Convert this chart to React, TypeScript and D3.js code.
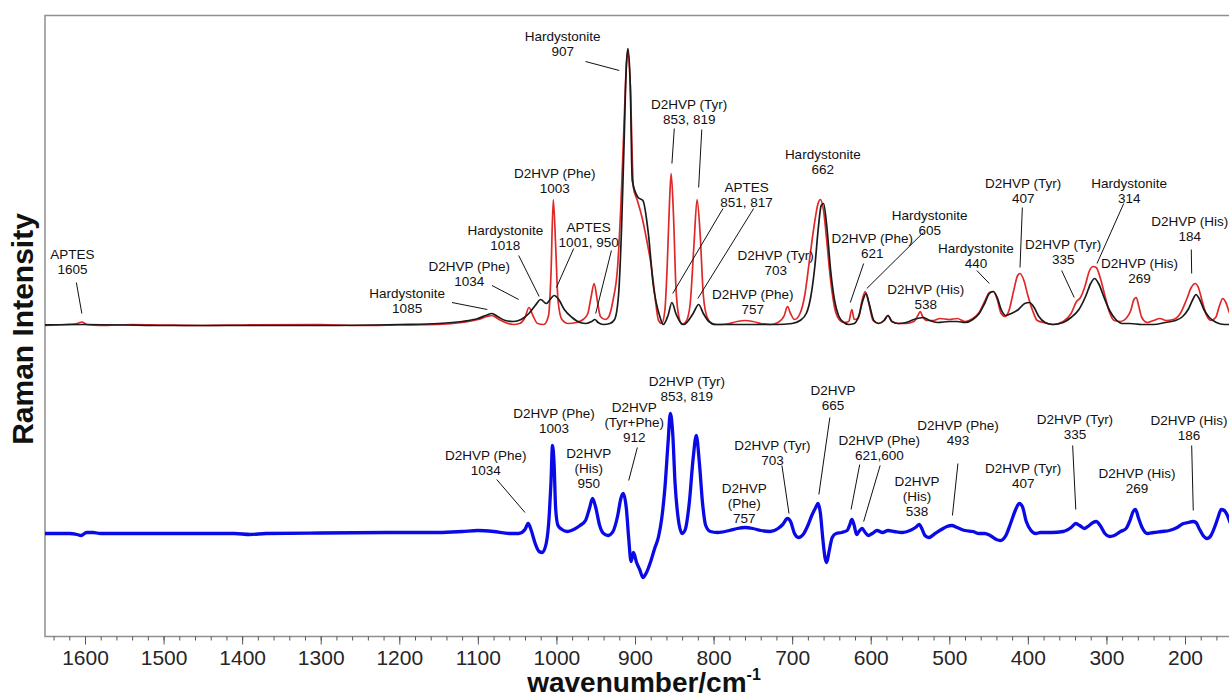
import React, { useRef, useEffect } from 'react';
import * as d3 from 'd3';

type Pt = [number, number];

// [wavenumber cm-1, intensity above the trace's own baseline (a.u.)]
const redSpectrum: Pt[] = [
    [1660, 0], [1625, 0.1], [1610, 0.2], [1604, 0.35], [1598, 0.1], [1580, 0],
    [1540, 0.1], [1500, 0.05], [1450, 0], [1400, 0.05], [1300, 0.1], [1250, 0],
    [1200, 0.05], [1150, 0.1], [1120, 0.3], [1100, 0.6], [1088, 0.9], [1082, 1.0],
    [1075, 0.7], [1065, 0.3], [1055, 0.1], [1047, 0.2], [1040, 0.8], [1035, 1.8],
    [1030, 1.0], [1024, 0.2], [1016, 0.1], [1010, 1.0], [1007, 5.0], [1004, 12.6],
    [1001, 8.0], [998, 2.5], [993, 0.6], [985, 0.2], [975, 0.3], [966, 0.6],
    [960, 1.2], [956, 2.8], [952, 4.2], [948, 2.5], [944, 0.9], [938, 0.6],
    [934, 0.8], [928, 2.5], [922, 6.0], [918, 12.0], [914, 20.0], [911, 26.0],
    [909, 27.5], [906, 24.0], [902, 13.8], [897, 12.5], [891, 10.8], [885, 8.5],
    [879, 5.8], [875, 3.2], [870, 0.5], [866, 0.2], [862, 1.5], [859, 6.0],
    [856, 12.5], [854, 15.2], [851, 11.0], [848, 4.0], [844, 0.8], [840, 0.1],
    [835, 0.4], [830, 2.0], [825, 8.0], [821, 12.6], [817, 9.0], [813, 3.0],
    [808, 0.8], [800, 0.1], [790, 0.1], [780, 0.2], [770, 0.4], [760, 0.5],
    [750, 0.4], [740, 0.2], [728, 0.1], [718, 0.3], [710, 1.0], [706, 1.9],
    [702, 1.2], [697, 0.6], [690, 1.2], [684, 3.0], [678, 6.5], [672, 10.0],
    [667, 12.2], [664, 12.6], [660, 11.5], [656, 8.5], [651, 4.5], [646, 1.8],
    [641, 0.7], [634, 0.3], [628, 0.4], [624, 1.6], [621, 0.6], [616, 0.7],
    [611, 2.5], [607, 3.4], [603, 2.4], [597, 0.5], [590, 0.2], [583, 0.5],
    [578, 1.0], [573, 0.4], [565, 0.2], [555, 0.2], [545, 0.4], [540, 1.0],
    [537, 1.4], [534, 0.9], [528, 0.5], [520, 0.5], [512, 0.7], [500, 0.6],
    [490, 0.7], [480, 0.4], [470, 0.7], [462, 1.3], [455, 2.4], [449, 3.3],
    [444, 3.4], [439, 2.6], [434, 1.2], [429, 0.9], [424, 1.5], [418, 3.5],
    [413, 5.0], [410, 5.2], [405, 4.5], [400, 3.0], [394, 1.5], [388, 0.5],
    [380, 0.3], [368, 0.1], [355, 0.4], [345, 1.2], [338, 2.4], [333, 2.8],
    [327, 4.0], [322, 5.4], [317, 5.9], [313, 5.8], [308, 4.8], [302, 3.0],
    [296, 1.3], [290, 0.5], [282, 0.4], [275, 0.7], [269, 1.5], [265, 2.6],
    [262, 2.8], [259, 2.0], [255, 0.8], [248, 0.3], [240, 0.5], [232, 0.7],
    [224, 0.5], [215, 0.6], [206, 1.2], [198, 2.6], [192, 3.8], [187, 4.2],
    [183, 3.8], [178, 2.4], [173, 1.1], [167, 0.5], [161, 0.8], [156, 2.0],
    [152, 2.7], [148, 2.3], [143, 1.2], [138, 0.8],
];

const blackSpectrum: Pt[] = [
    [1660, 0.05], [1600, 0.1], [1500, 0], [1400, 0], [1300, 0], [1200, 0.1],
    [1150, 0.2], [1120, 0.4], [1100, 0.7], [1090, 1.0], [1082, 1.2], [1075, 0.9],
    [1065, 0.5], [1055, 0.4], [1045, 0.6], [1035, 1.2], [1027, 2.0], [1020, 2.6],
    [1013, 2.2], [1008, 2.6], [1003, 3.0], [997, 2.6], [990, 1.6], [980, 0.8],
    [970, 0.3], [962, 0.2], [955, 0.4], [951, 0.6], [947, 0.3], [940, 0.1],
    [932, 0.2], [926, 0.6], [921, 3.0], [917, 10.0], [914, 18.0], [911, 26.0],
    [909, 27.7], [906, 24.0], [903.5, 14.5], [896, 12.8], [890, 12.5], [883, 9.2],
    [877, 4.2], [868, 0.8], [864, 0.1], [858, 1.0], [853, 2.3], [848, 1.2],
    [842, 0.3], [838, 0.1], [833, 0.4], [826, 1.2], [819, 2.1], [813, 1.2],
    [806, 0.4], [797, 0.1], [760, 0.1], [720, 0.1], [700, 0.2], [690, 0.5],
    [682, 1.2], [676, 3.0], [671, 6.0], [667, 9.5], [663, 12.0], [660, 12.2],
    [656, 10.0], [651, 5.5], [646, 2.5], [641, 1.0], [634, 0.3], [628, 0.1],
    [621, 0.2], [615, 1.0], [610, 2.5], [606, 3.2], [602, 2.2], [596, 0.5],
    [590, 0.2], [583, 0.5], [578, 1.0], [573, 0.4], [565, 0.2], [555, 0.3],
    [545, 0.6], [533, 0.8], [525, 0.5], [515, 0.3], [500, 0.4], [490, 0.4],
    [480, 0.3], [470, 0.6], [462, 1.2], [455, 2.2], [449, 3.2], [444, 3.4],
    [439, 2.8], [434, 1.6], [428, 1.0], [421, 1.2], [412, 1.6], [404, 2.2],
    [398, 2.3], [392, 1.8], [386, 0.9], [378, 0.3], [368, 0.1], [355, 0.3],
    [345, 0.8], [335, 1.6], [326, 3.0], [320, 4.2], [315, 4.7], [310, 4.2],
    [303, 2.8], [296, 1.5], [288, 0.6], [280, 0.2], [270, 0.2], [255, 0.1],
    [240, 0.1], [225, 0.3], [212, 0.5], [203, 0.9], [196, 1.6], [190, 2.6],
    [186, 3.1], [182, 2.7], [176, 1.6], [169, 0.8], [160, 0.3], [150, 0.1],
    [138, 0.1],
];

const blueSpectrum: Pt[] = [
    [1660, 0], [1620, 0], [1610, -0.1], [1605, -0.2], [1598, 0.1], [1590, 0.1],
    [1580, 0], [1500, 0], [1450, 0], [1410, 0], [1390, -0.1], [1370, 0],
    [1300, 0.05], [1200, 0.1], [1150, 0.1], [1120, 0.2], [1100, 0.3], [1080, 0.2],
    [1060, 0], [1048, 0], [1040, 0.4], [1036, 1.0], [1032, 0.3], [1027, -1.0],
    [1022, -1.8], [1018, -1.9], [1013, -1.0], [1009, 2.0], [1007, 5.0], [1005, 8.8],
    [1003, 7.0], [1001, 2.5], [998, 0.8], [993, 0.4], [986, 0.2], [978, 0.4],
    [970, 0.8], [963, 1.3], [958, 2.5], [954, 3.5], [950, 2.6], [945, 0.8],
    [940, 0], [934, -0.2], [928, 0.2], [922, 1.8], [918, 3.5], [915, 4.0],
    [911, 2.5], [908, -0.5], [905, -2.8], [902, -1.9], [898, -2.9], [894, -3.6],
    [890, -4.4], [886, -4.0], [880, -2.8], [875, -1.5], [870, -0.3], [866, 1.5],
    [862, 4.5], [858, 9.0], [855, 12.0], [852, 10.0], [849, 5.0], [845, 1.5],
    [840, 0], [836, 0.4], [831, 3.0], [826, 7.5], [822, 9.8], [818, 7.0],
    [814, 3.0], [810, 0.8], [804, 0.2], [795, 0.1], [780, 0.3], [770, 0.5],
    [760, 0.6], [750, 0.5], [740, 0.3], [728, 0.2], [718, 0.5], [712, 0.9],
    [706, 1.5], [702, 1.2], [697, 0], [692, -0.4], [686, -0.1], [680, 0.8],
    [675, 1.8], [670, 2.6], [667, 3.0], [664, 2.0], [661, -0.5], [658, -2.5],
    [656, -2.9], [653, -1.8], [649, -0.4], [644, 0], [637, 0.1], [630, 0.3],
    [627, 0.8], [624, 1.4], [621, 0.8], [618, -0.1], [615, 0.2], [611, 0.5],
    [607, 0.1], [603, -0.2], [598, 0], [592, 0.3], [585, 0.1], [578, 0.3],
    [570, 0.2], [560, 0.1], [550, 0.3], [543, 0.6], [538, 0.9], [535, 0.5],
    [531, -0.2], [526, -0.4], [518, 0], [510, 0.4], [503, 0.7], [497, 0.8],
    [490, 0.6], [480, 0.3], [470, 0.2], [462, 0], [455, 0], [448, -0.2],
    [440, -0.6], [435, -0.7], [428, -0.2], [422, 1.0], [416, 2.3], [411, 3.0],
    [407, 2.7], [402, 1.2], [396, 0.3], [390, 0], [384, 0.1], [370, 0.1],
    [355, 0.2], [345, 0.6], [339, 1.0], [334, 0.8], [328, 0.5], [322, 0.8],
    [317, 1.1], [313, 1.2], [308, 0.8], [302, 0], [296, -0.3], [290, -0.2],
    [282, 0.2], [275, 0.5], [270, 1.3], [266, 2.2], [263, 2.4], [259, 1.5],
    [254, 0.5], [248, 0], [240, 0.1], [230, 0.2], [220, 0.3], [210, 0.6],
    [202, 1.0], [196, 1.1], [190, 1.2], [186, 1.1], [182, 0.5], [177, -0.2],
    [172, -0.5], [167, -0.2], [162, 0.7], [158, 1.6], [154, 2.4], [150, 2.3],
    [146, 1.8], [142, 1.0], [138, 0.6],
];

// vertical offsets of each trace on the stacked plot
const upperOffset = 31.1;
const lowerOffset = 10.3;

const majorTicks = [1600, 1500, 1400, 1300, 1200, 1100, 1000, 900, 800, 700, 600, 500, 400, 300, 200];
const minorTicks = d3.range(1640, 139, -20);

interface Note {
    lines: string[];
    x: number;
    y: number;
    leaders?: [number, number, number, number][];
}

const upperNotes: Note[] = [
    { lines: ['APTES', '1605'], x: 1616, y: 38.3, leaders: [[1611, 35.4, 1604, 32.3]] },
    { lines: ['Hardystonite', '1085'], x: 1190, y: 34.4, leaders: [[1133, 33.4, 1088, 32.7]] },
    { lines: ['D2HVP (Phe)', '1034'], x: 1111, y: 37.1, leaders: [[1082, 35.1, 1048, 33.7]] },
    { lines: ['Hardystonite', '1018'], x: 1065, y: 40.7, leaders: [[1048, 38.1, 1022, 34.0]] },
    { lines: ['D2HVP (Phe)', '1003'], x: 1002, y: 46.4 },
    { lines: ['APTES', '1001, 950'], x: 959, y: 41.0, leaders: [[978, 38.8, 1000, 34.9], [930, 38.6, 950, 32.3]] },
    { lines: ['Hardystonite', '907'], x: 992, y: 60.1, leaders: [[963, 57.5, 920, 56.6]] },
    { lines: ['D2HVP (Tyr)', '853, 819'], x: 831, y: 53.3, leaders: [[850, 50.8, 853, 47.3], [815, 50.7, 819, 44.9]] },
    { lines: ['APTES', '851, 817'], x: 758, y: 45.0, leaders: [[788, 42.8, 852, 34.3], [749, 42.8, 820, 33.8]] },
    { lines: ['D2HVP (Tyr)', '703'], x: 721, y: 38.2 },
    { lines: ['D2HVP (Phe)', '757'], x: 750, y: 34.3 },
    { lines: ['Hardystonite', '662'], x: 661, y: 48.3 },
    { lines: ['D2HVP (Phe)', '621'], x: 598, y: 39.9, leaders: [[609, 37.3, 626, 33.4]] },
    { lines: ['Hardystonite', '605'], x: 525, y: 42.2, leaders: [[533, 40.4, 605, 34.8]] },
    { lines: ['D2HVP (His)', '538'], x: 530, y: 34.8 },
    { lines: ['Hardystonite', '440'], x: 466, y: 38.9, leaders: [[465, 36.6, 449, 35.3]] },
    { lines: ['D2HVP (Tyr)', '407'], x: 406, y: 45.4, leaders: [[407, 42.9, 410, 36.9]] },
    { lines: ['D2HVP (Tyr)', '335'], x: 355, y: 39.3, leaders: [[357, 36.6, 341, 33.9]] },
    { lines: ['Hardystonite', '314'], x: 271, y: 45.4, leaders: [[278, 43.3, 312, 37.3]] },
    { lines: ['D2HVP (His)', '269'], x: 258, y: 37.4 },
    { lines: ['D2HVP (His)', '184'], x: 194, y: 41.6, leaders: [[192, 38.7, 191.5, 36.3]] },
];

const lowerNotes: Note[] = [
    { lines: ['D2HVP (Phe)', '1034'], x: 1090, y: 18.2, leaders: [[1076, 15.7, 1040, 12.4]] },
    { lines: ['D2HVP (Phe)', '1003'], x: 1003, y: 22.4 },
    { lines: ['D2HVP', '(His)', '950'], x: 959, y: 18.4 },
    { lines: ['D2HVP', '(Tyr+Phe)', '912'], x: 901, y: 23.0, leaders: [[897, 18.9, 908, 15.6]] },
    { lines: ['D2HVP (Tyr)', '853, 819'], x: 834, y: 25.6 },
    { lines: ['D2HVP', '(Phe)', '757'], x: 761, y: 14.9 },
    { lines: ['D2HVP (Tyr)', '703'], x: 725, y: 19.2, leaders: [[713, 17.1, 704, 12.3]] },
    { lines: ['D2HVP', '665'], x: 648, y: 24.7, leaders: [[652, 21.9, 666, 14.2]] },
    { lines: ['D2HVP (Phe)', '621,600'], x: 589, y: 19.7, leaders: [[614, 17.2, 625, 12.7], [588, 17.1, 609, 11.5]] },
    { lines: ['D2HVP', '(His)', '538'], x: 541, y: 15.6 },
    { lines: ['D2HVP (Phe)', '493'], x: 489, y: 21.2, leaders: [[489, 17.3, 496, 12.1]] },
    { lines: ['D2HVP (Tyr)', '407'], x: 406, y: 16.9 },
    { lines: ['D2HVP (Tyr)', '335'], x: 340, y: 21.8, leaders: [[343, 19.1, 339, 12.7]] },
    { lines: ['D2HVP (His)', '269'], x: 261, y: 16.4 },
    { lines: ['D2HVP (His)', '186'], x: 195, y: 21.7, leaders: [[191.5, 19.1, 189.5, 12.6]] },
];

const W = 1229;
const H = 698;
const FONT = 'Liberation Sans, Arial, sans-serif';

const App: React.FC = () => {
    const svgRef = useRef<SVGSVGElement | null>(null);

    useEffect(() => {
        if (!svgRef.current) return;
        const svg = d3.select(svgRef.current);
        svg.selectAll('*').remove();

        const left = 45;
        const top = 15.5;
        const bottom = 636.5;

        const x = d3.scaleLinear().domain([1600, 200]).range([85, 1185]);
        const y = d3.scaleLinear().domain([0, 62.1]).range([bottom, top]);

        svg.append('defs')
            .append('clipPath')
            .attr('id', 'plot-clip')
            .append('rect')
            .attr('x', left)
            .attr('y', top)
            .attr('width', W - left)
            .attr('height', bottom - top);

        // frame
        svg.append('path')
            .attr('d', `M${W},${top}H${left}V${bottom}H${W}`)
            .attr('fill', 'none')
            .attr('stroke', '#8f8f8f')
            .attr('stroke-width', 1.5);

        // x axis ticks
        const minorAxis = d3.axisBottom(x).tickValues(minorTicks).tickSize(4).tickFormat(() => '');
        svg.append('g')
            .attr('transform', `translate(0,${bottom})`)
            .call(minorAxis)
            .call((g) => g.select('.domain').remove())
            .selectAll('line')
            .attr('stroke', '#555');

        const majorAxis = d3
            .axisBottom(x)
            .tickValues(majorTicks)
            .tickSize(8)
            .tickPadding(6)
            .tickFormat(d3.format('d'));
        const gx = svg
            .append('g')
            .attr('transform', `translate(0,${bottom})`)
            .call(majorAxis);
        gx.select('.domain').remove();
        gx.selectAll('line').attr('stroke', '#555');
        gx.selectAll('text')
            .attr('fill', '#262626')
            .style('font-family', FONT)
            .style('font-size', '21px');

        // axis titles
        const xt = svg
            .append('text')
            .attr('x', 644)
            .attr('y', 692)
            .attr('text-anchor', 'middle')
            .style('font-family', FONT)
            .style('font-weight', 'bold')
            .style('font-size', '28px')
            .attr('fill', '#111');
        xt.append('tspan').text('wavenumber/cm');
        xt.append('tspan').attr('dy', -12).style('font-size', '16px').text('-1');

        svg.append('text')
            .attr('transform', 'translate(33,329) rotate(-90)')
            .attr('text-anchor', 'middle')
            .style('font-family', FONT)
            .style('font-weight', 'bold')
            .style('font-size', '30px')
            .attr('fill', '#111')
            .text('Raman Intensity');

        // spectra
        const plot = svg.append('g').attr('clip-path', 'url(#plot-clip)');
        const line = (offset: number) =>
            d3
                .line<Pt>()
                .x((d) => x(d[0]))
                .y((d) => y(d[1] + offset))
                .curve(d3.curveMonotoneX);

        plot.append('path')
            .datum(redSpectrum)
            .attr('fill', 'none')
            .attr('stroke', '#e02828')
            .attr('stroke-width', 1.7)
            .attr('stroke-linejoin', 'round')
            .attr('d', line(upperOffset));

        plot.append('path')
            .datum(blackSpectrum)
            .attr('fill', 'none')
            .attr('stroke', '#1a1a1a')
            .attr('stroke-width', 1.7)
            .attr('stroke-linejoin', 'round')
            .attr('d', line(upperOffset));

        plot.append('path')
            .datum(blueSpectrum)
            .attr('fill', 'none')
            .attr('stroke', '#0a0ae6')
            .attr('stroke-width', 3.3)
            .attr('stroke-linejoin', 'round')
            .attr('d', line(lowerOffset));

        // peak annotations
        const notes = svg.append('g');
        [...upperNotes, ...lowerNotes].forEach((n) => {
            const t = notes
                .append('text')
                .attr('text-anchor', 'middle')
                .attr('dominant-baseline', 'central')
                .style('font-family', FONT)
                .style('font-size', '13.5px')
                .attr('fill', '#111');
            n.lines.forEach((s, i) => {
                t.append('tspan')
                    .attr('x', x(n.x))
                    .attr('y', y(n.y) + i * 15)
                    .text(s);
            });
            (n.leaders || []).forEach((l) => {
                notes
                    .append('line')
                    .attr('x1', x(l[0]))
                    .attr('y1', y(l[1]))
                    .attr('x2', x(l[2]))
                    .attr('y2', y(l[3]))
                    .attr('stroke', '#111')
                    .attr('stroke-width', 1);
            });
        });
    }, []);

    return (
        <div style={{ position: 'absolute', left: 0, top: 0, width: W, height: H, background: '#fff' }}>
            <svg ref={svgRef} width={W} height={H} style={{ display: 'block' }}></svg>
        </div>
    );
};

export default App;
